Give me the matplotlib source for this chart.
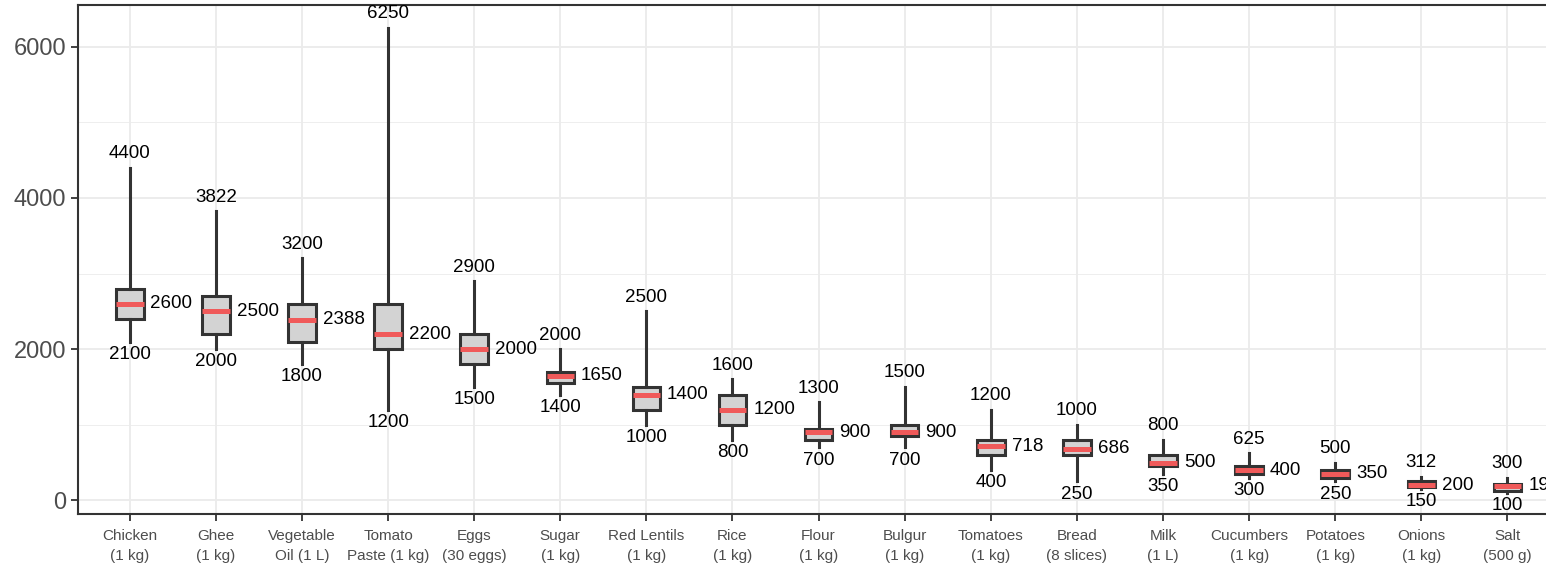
import matplotlib
matplotlib.use("Agg")
import matplotlib.pyplot as plt

plt.rcParams['font.family'] = ['Liberation Sans', 'DejaVu Sans']

# datos
items = ["Chicken\n(1 kg)", "Ghee\n(1 kg)", "Vegetable\nOil (1 L)", "Tomato\nPaste (1 kg)",
         "Eggs\n(30 eggs)", "Sugar\n(1 kg)", "Red Lentils\n(1 kg)", "Rice\n(1 kg)",
         "Flour\n(1 kg)", "Bulgur\n(1 kg)", "Tomatoes\n(1 kg)", "Bread\n(8 slices)",
         "Milk\n(1 L)", "Cucumbers\n(1 kg)", "Potatoes\n(1 kg)", "Onions\n(1 kg)", "Salt\n(500 g)"]
mins = [2100, 2000, 1800, 1200, 1500, 1400, 1000, 800, 700, 700, 400, 250, 350, 300, 250, 150, 100]
q1s = [2400, 2200, 2100, 2000, 1800, 1550, 1200, 1000, 800, 850, 600, 600, 450, 350, 300, 175, 125]
medians = [2600, 2500, 2388, 2200, 2000, 1650, 1400, 1200, 900, 900, 718, 686, 500, 400, 350, 200, 194]
q3s = [2800, 2700, 2600, 2600, 2200, 1700, 1500, 1400, 950, 1000, 800, 800, 600, 450, 400, 250, 220]
maxs = [4400, 3822, 3200, 6250, 2900, 2000, 2500, 1600, 1300, 1500, 1200, 1000, 800, 625, 500, 312, 300]

dark = "#333333"
fig = plt.figure(figsize=(15.46, 5.71), dpi=100)
ax = fig.add_axes([0.0505, 0.0998, 0.958, 0.8906])

# grilla
ax.set_axisbelow(True)
for y in [1000, 3000, 5000]:
    ax.axhline(y, color="#ebebeb", lw=0.6, zorder=0)
ax.grid(True, color="#ebebeb", lw=1.3, zorder=0)

stats = []
for i in range(len(items)):
    stats.append({"whislo": mins[i], "q1": q1s[i], "med": medians[i],
                  "q3": q3s[i], "whishi": maxs[i]})

pos = list(range(len(items)))
ax.bxp(stats, positions=pos, widths=0.32, showcaps=False, showfliers=False,
       patch_artist=True,
       boxprops=dict(facecolor="#d3d3d3", edgecolor=dark, linewidth=2.2),
       whiskerprops=dict(color=dark, linewidth=2.2),
       medianprops=dict(color="#F05A5A", linewidth=3.6, solid_capstyle="butt"))

# etiquetas de valores
for i in pos:
    ax.annotate(str(maxs[i]), (i, maxs[i]), xytext=(0, 4), textcoords="offset points",
                ha="center", va="bottom", fontsize=13.5)
    ax.annotate(str(mins[i]), (i, mins[i]), xytext=(0, -3), textcoords="offset points",
                ha="center", va="top", fontsize=13.5)
    ax.annotate(str(medians[i]), (i + 0.16, medians[i]), xytext=(5, 0),
                textcoords="offset points", ha="left", va="center", fontsize=13.5,
                annotation_clip=False)

ax.set_xlim(-0.6, 16.6)
ax.set_ylim(-180, 6545)
ax.set_yticks([0, 2000, 4000, 6000])
ax.set_xticks(pos)
ax.set_xticklabels(items, fontsize=11, color="#4d4d4d", linespacing=1.5)
ax.tick_params(axis="y", labelsize=17, labelcolor="#4d4d4d", color=dark, length=5, width=1.3)
ax.tick_params(axis="x", color=dark, length=5, width=1.3, pad=6)
for s in ax.spines.values():
    s.set_color(dark)
    s.set_linewidth(1.5)

plt.savefig("out.png", dpi=100)
plt.close()
